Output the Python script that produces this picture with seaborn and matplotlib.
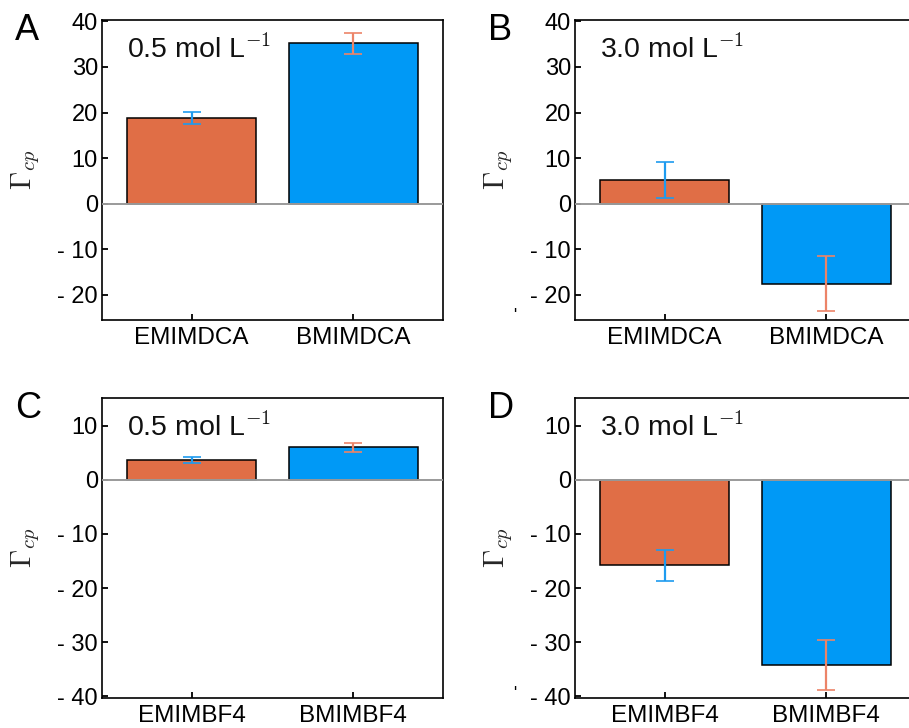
import matplotlib
matplotlib.use("Agg")
import matplotlib.pyplot as plt
from matplotlib.ticker import FuncFormatter
import numpy as np
import pandas as pd
import seaborn as sns

# Γcp values and uncertainties for the four conditions
dca_labels = ["EMIMDCA", "BMIMDCA"]
bf4_labels = ["EMIMBF4", "BMIMBF4"]

gamma_dca_05 = [18.8, 35.2]
err_dca_05 = [1.35, 2.25]
gamma_dca_30 = [5.2, -17.5]
err_dca_30 = [4.0, 6.1]

gamma_bf4_05 = [3.6, 6.0]
err_bf4_05 = [0.55, 0.8]
gamma_bf4_30 = [-15.8, -34.2]
err_bf4_30 = [2.85, 4.6]

panel_letters = ["A", "B", "C", "D"]
conc_labels = ["0.5 mol L$^{-1}$", "3.0 mol L$^{-1}$",
               "0.5 mol L$^{-1}$", "3.0 mol L$^{-1}$"]
dca_yticks = [-20, -10, 0, 10, 20, 30, 40]
bf4_yticks = [-40, -30, -20, -10, 0, 10]

ORANGE = "#E06E46"
BLUE = "#0099F6"
ERR_ON_ORANGE = "#1E9BEF"
ERR_ON_BLUE = "#EC8468"

sns.set_theme(style="white")
plt.rcParams["font.family"] = ["Liberation Sans", "DejaVu Sans"]
plt.rcParams["mathtext.fontset"] = "cm"

W, H = 909, 728
fig = plt.figure(figsize=(W / 100, H / 100), dpi=100)


def px_axes(left, top, right, bottom):
    return fig.add_axes([left / W, 1 - bottom / H, (right - left) / W, (bottom - top) / H])


panels = [
    (px_axes(102, 20, 443, 320), dca_labels, gamma_dca_05, err_dca_05, (-25.5, 40.3), dca_yticks),
    (px_axes(575, 20, 916, 320), dca_labels, gamma_dca_30, err_dca_30, (-25.5, 40.3), dca_yticks),
    (px_axes(102, 398, 443, 698), bf4_labels, gamma_bf4_05, err_bf4_05, (-40.3, 15.1), bf4_yticks),
    (px_axes(575, 398, 916, 698), bf4_labels, gamma_bf4_30, err_bf4_30, (-40.3, 15.1), bf4_yticks),
]


def minus_fmt(v, pos):
    return f"- {abs(v):g}" if v < 0 else f"{v:g}"


for i, (ax, labels, vals, errs, ylim, yticks) in enumerate(panels):
    df = pd.DataFrame({"ionic": labels, "gamma": vals})
    sns.barplot(data=df, x="ionic", y="gamma", hue="ionic",
                palette=[ORANGE, BLUE], saturation=1, width=0.8,
                edgecolor="black", linewidth=1.1, errorbar=None,
                legend=False, ax=ax, zorder=2)
    ax.axhline(0, color="#9a9a9a", lw=1.4, zorder=3)

    for j, (v, e) in enumerate(zip(vals, errs)):
        ecol = ERR_ON_ORANGE if j == 0 else ERR_ON_BLUE
        _, caps, _ = ax.errorbar(j, v, yerr=e, fmt="none", ecolor=ecol,
                                 elinewidth=1.6, capsize=6.5, capthick=1.2,
                                 zorder=4)
        for c in caps:
            c.set_color("#1a1a1a")

    ax.set_xlim(-0.555, 1.555)
    ax.set_ylim(*ylim)
    ax.set_yticks(yticks)
    ax.yaxis.set_major_formatter(FuncFormatter(minus_fmt))
    ax.set_xlabel("")
    ax.set_ylabel(r"$\Gamma_{cp}$", fontsize=21)
    ax.yaxis.set_label_coords(-0.175, 0.5)

    ax.tick_params(axis="y", which="major", direction="in", length=4, width=1.3,
                   labelsize=17, pad=3, left=True, right=False, colors="black")
    ax.tick_params(axis="x", which="major", direction="in", length=4, width=1.3,
                   labelsize=17.5, pad=5, bottom=True, top=False, colors="black")
    for s in ax.spines.values():
        s.set_visible(True)
        s.set_color("black")
        s.set_linewidth(1.2)

    ax.text(0.073, 0.875, conc_labels[i], transform=ax.transAxes,
            fontsize=20.5, ha="left", va="baseline", color="#111111")

    pos = ax.get_position()
    fig.text(pos.x0 - 87 / W, pos.y1 - 10 / H, panel_letters[i],
             fontsize=26, ha="left", va="center", color="black")

    # small stray tick glyph left of the bottom tick on the right-hand panels
    if i in (1, 3):
        fig.text(pos.x0 - 60 / W, pos.y0 + 4 / H, "'", fontsize=12,
                 ha="center", va="center", color="black")

fig.savefig("out.png", dpi=100)
